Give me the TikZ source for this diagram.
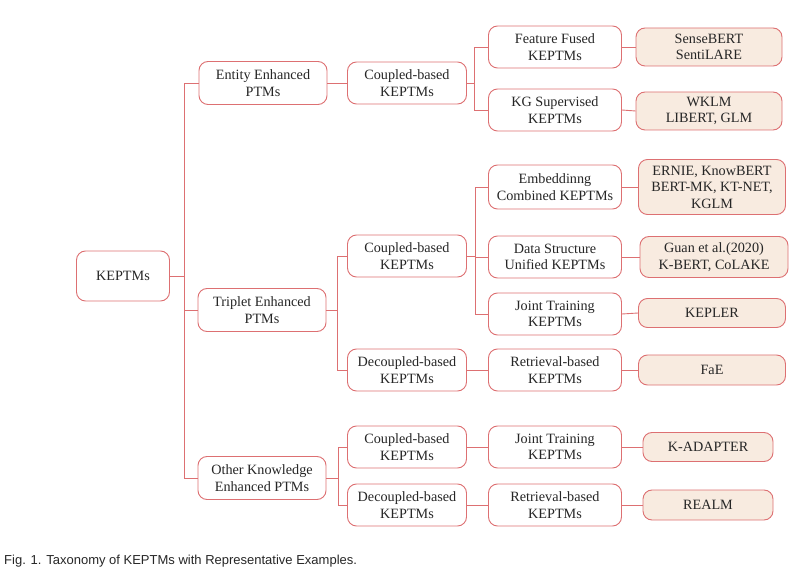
\documentclass[tikz,border=0pt]{standalone}
\usepackage{fontspec}
\setmainfont{Liberation Serif}
\newfontfamily\captionfont{Liberation Sans}
\usepackage{xcolor}
\usepackage{tikz}
\usetikzlibrary{positioning}
\definecolor{taxred}{RGB}{221,112,114}
\definecolor{taxbeige}{RGB}{248,235,224}
\tikzset{
	category/.style={draw=taxred, line width=0.9pt, rounded corners=9pt, fill=white, align=center, inner sep=0pt, text=black!85, font=\fontsize{14.2}{16.5}\selectfont},
	lvlroot/.style={category, minimum width=93pt, minimum height=50pt},
	lvlone/.style={category, minimum width=128pt, minimum height=43pt},
	lvltwo/.style={category, minimum width=119pt, minimum height=42pt},
	lvlthree/.style={category, minimum width=133pt, minimum height=42pt},
	example/.style={category, fill=taxbeige, minimum width=146pt, minimum height=38pt},
	link/.style={draw=taxred, line width=0.9pt}
}
\newcommand{\connectbus}[3]{
	\draw[link] (#2.east) -- ++(#1,0) |- (#3.west);
}
\newcommand{\connectstraight}[2]{
	\draw[link] (#1.east) -- (#2.west);
}

\begin{document}
\begin{tikzpicture}[x=1pt, y=-1pt]
	\useasboundingbox (0,0) rectangle (812,572);

	\node[lvlroot] (keptms) at (123,276) {KEPTMs};

	% first level: kind of knowledge
	\node[lvlone] (entity) at (263,83) {Entity Enhanced\\PTMs};
	\node[lvlone] (triplet) at (262,310) {Triplet Enhanced\\PTMs};
	\node[lvlone] (other) at (262,478) {Other Knowledge\\Enhanced PTMs};

	\connectbus{14}{keptms}{entity}
	\connectbus{14}{keptms}{triplet}
	\connectbus{14}{keptms}{other}

	% second level: coupled / decoupled
	\node[lvltwo] (entity-coupled) at (407,83) {Coupled-based\\KEPTMs};
	\node[lvltwo] (triplet-coupled) at (407,256) {Coupled-based\\KEPTMs};
	\node[lvltwo] (triplet-decoupled) at (407,370) {Decoupled-based\\KEPTMs};
	\node[lvltwo] (other-coupled) at (407,447) {Coupled-based\\KEPTMs};
	\node[lvltwo] (other-decoupled) at (407,505) {Decoupled-based\\KEPTMs};

	\connectstraight{entity}{entity-coupled}
	\connectbus{11}{triplet}{triplet-coupled}
	\connectbus{11}{triplet}{triplet-decoupled}
	\connectbus{12}{other}{other-coupled}
	\connectbus{12}{other}{other-decoupled}

	% third level: methods
	\node[lvlthree] (fused) at (555,47) {Feature Fused\\KEPTMs};
	\node[lvlthree] (supervised) at (555,110) {KG Supervised\\KEPTMs};
	\node[lvlthree, minimum height=44pt] (combined) at (555,187) {Embeddinng\\Combined KEPTMs};
	\node[lvlthree] (unified) at (555,257) {Data Structure\\Unified KEPTMs};
	\node[lvlthree] (joint) at (555,314) {Joint Training\\KEPTMs};
	\node[lvlthree] (retrieval) at (555,370) {Retrieval-based\\KEPTMs};
	\node[lvlthree] (other-joint) at (555,447) {Joint Training\\KEPTMs};
	\node[lvlthree] (other-retrieval) at (555,505) {Retrieval-based\\KEPTMs};

	\connectbus{7}{entity-coupled}{fused}
	\connectbus{7}{entity-coupled}{supervised}
	\connectbus{8}{triplet-coupled}{combined}
	\connectbus{8}{triplet-coupled}{unified}
	\connectbus{8}{triplet-coupled}{joint}
	\connectstraight{triplet-decoupled}{retrieval}
	\connectstraight{other-coupled}{other-joint}
	\connectstraight{other-decoupled}{other-retrieval}

	% representative examples
	\node[example] (ex-fused) at (709,47) {SenseBERT\\SentiLARE};
	\node[example] (ex-supervised) at (709,111) {WKLM\\LIBERT, GLM};
	\node[example, minimum width=147pt, minimum height=55pt] (ex-combined) at (712,187) {ERNIE, KnowBERT\\BERT-MK, KT-NET,\\KGLM};
	\node[example, minimum width=148pt, minimum height=41pt] (ex-unified) at (714,257) {Guan et al.(2020)\\K-BERT, CoLAKE};
	\node[example, minimum width=147pt, minimum height=29pt] (ex-joint) at (712,313) {KEPLER};
	\node[example, minimum width=147pt, minimum height=30pt] (ex-retrieval) at (712,370) {FaE};
	\node[example, minimum width=130pt, minimum height=29pt] (ex-other-joint) at (708,447) {K-ADAPTER};
	\node[example, minimum width=130pt, minimum height=30pt] (ex-other-retrieval) at (708,505) {REALM};

	\connectstraight{fused}{ex-fused}
	\connectstraight{supervised}{ex-supervised}
	\connectstraight{combined}{ex-combined}
	\connectstraight{unified}{ex-unified}
	\connectstraight{joint}{ex-joint}
	\connectstraight{retrieval}{ex-retrieval}
	\connectstraight{other-joint}{ex-other-joint}
	\connectstraight{other-retrieval}{ex-other-retrieval}

	\node[anchor=west, inner sep=0pt, text=black!85, font=\captionfont\fontsize{13}{15}\selectfont] (caption) at (4,561) {Fig. 1. Taxonomy of KEPTMs with Representative Examples.};
\end{tikzpicture}
\end{document}
